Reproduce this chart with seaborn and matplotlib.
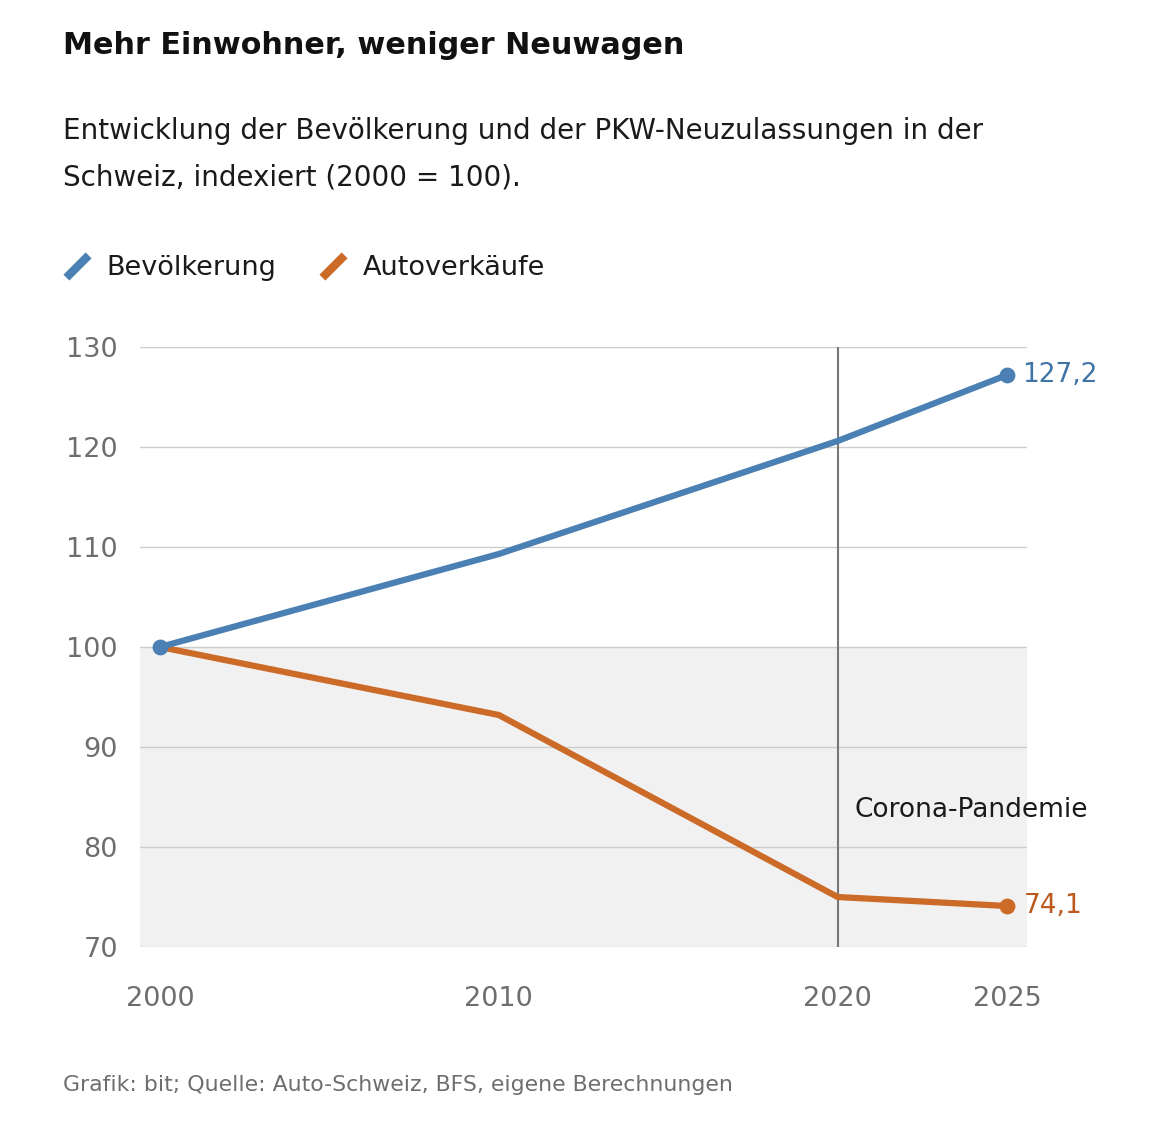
import matplotlib
matplotlib.use("Agg")
import matplotlib.pyplot as plt
import seaborn as sns
import pandas as pd
from matplotlib.lines import Line2D
from matplotlib.path import Path

years = [2000, 2010, 2020, 2025]
bevoelkerung = [100.0, 109.3, 120.6, 127.2]
autoverkaeufe = [100.0, 93.2, 75.0, 74.1]
series_names = ["Bevölkerung", "Autoverkäufe"]
y_ticks = [70, 80, 90, 100, 110, 120, 130]
x_ticks = [2000, 2010, 2020, 2025]
end_labels = ["127,2", "74,1"]

title = "Mehr Einwohner, weniger Neuwagen"
subtitle = "Entwicklung der Bevölkerung und der PKW-Neuzulassungen in der\nSchweiz, indexiert (2000 = 100)."
source = "Grafik: bit; Quelle: Auto-Schweiz, BFS, eigene Berechnungen"
event_label = "Corona-Pandemie"
event_year = 2020

blue = "#4a80b3"
orange = "#cc6a28"
blue_txt = "#3f74a6"
orange_txt = "#bb5a1c"

df = pd.DataFrame({
    "Jahr": years * 2,
    "Index": bevoelkerung + autoverkaeufe,
    "Serie": [series_names[0]] * len(years) + [series_names[1]] * len(years),
})

sns.set_theme(style="white")
plt.rcParams["font.family"] = ["DejaVu Sans"]

W, H = 1156, 1132
fig = plt.figure(figsize=(W / 100, H / 100), dpi=100)
ax = fig.add_axes([140 / W, 1 - 947 / H, (1027 - 140) / W, (947 - 347) / H])

ax.set_xlim(2000 - 20 / 33.88, 2025 + 20 / 33.88)
ax.set_ylim(70, 130)

ax.axhspan(70, 100, color="#f1f1f1", zorder=0, lw=0)
for t in y_ticks:
    ax.axhline(t, color="#cccccc", lw=1, zorder=1)
ax.axvline(event_year, color="#777777", lw=1.5, zorder=2)

sns.lineplot(data=df, x="Jahr", y="Index", hue="Serie",
             hue_order=[series_names[1], series_names[0]],
             palette={series_names[0]: blue, series_names[1]: orange},
             lw=4.5, legend=False, ax=ax, zorder=3)

ax.scatter([years[-1]], [autoverkaeufe[-1]], s=130, color=orange, zorder=4, lw=0)
ax.scatter([years[0], years[-1]], [bevoelkerung[0], bevoelkerung[-1]], s=130, color=blue, zorder=5, lw=0)

ax.annotate(end_labels[0], (years[-1], bevoelkerung[-1]), xytext=(11, 0), textcoords="offset points",
            va="center", ha="left", fontsize=19, color=blue_txt)
ax.annotate(end_labels[1], (years[-1], autoverkaeufe[-1]), xytext=(12, 0), textcoords="offset points",
            va="center", ha="left", fontsize=19, color=orange_txt)
ax.text(event_year + 0.5, 83.7, event_label, fontsize=19, color="#1a1a1a", va="center", ha="left")

for s in ax.spines.values():
    s.set_visible(False)
ax.set_xticks(x_ticks)
ax.set_xticklabels([str(x) for x in x_ticks])
ax.set_yticks(y_ticks)
ax.set_yticklabels([str(y) for y in y_ticks])
ax.tick_params(axis="x", length=7, width=1.5, color="#333333", pad=21, labelsize=19.5, labelcolor="#6e6e6e")
ax.tick_params(axis="y", length=0, pad=16, labelsize=19.5, labelcolor="#6e6e6e")
ax.set_xlabel("")
ax.set_ylabel("")

fig.text(63 / W, 1 - 45 / H, title, fontsize=21.8, fontweight="bold", color="#111111", va="center", ha="left")
fig.text(63 / W, 1 - 154 / H, subtitle, fontsize=20, color="#1a1a1a", va="center", ha="left", linespacing=1.85)
fig.text(63 / W, 1 - 1085 / H, source, fontsize=15.8, color="#6e6e6e", va="center", ha="left")

diag = Path([(-1, -1), (1, 1)], [Path.MOVETO, Path.LINETO])
handles = [Line2D([], [], ls="none", marker=diag, ms=16, mew=6, mec=blue),
           Line2D([], [], ls="none", marker=diag, ms=16, mew=6, mec=orange)]
fig.legend(handles, series_names, loc="center left", bbox_to_anchor=(36 / W, 1 - 268 / H),
           frameon=False, ncol=2, fontsize=19.5, handlelength=1.2, handletextpad=0.5,
           columnspacing=1.5, labelcolor="#1a1a1a")

fig.savefig("out.png", dpi=100)
